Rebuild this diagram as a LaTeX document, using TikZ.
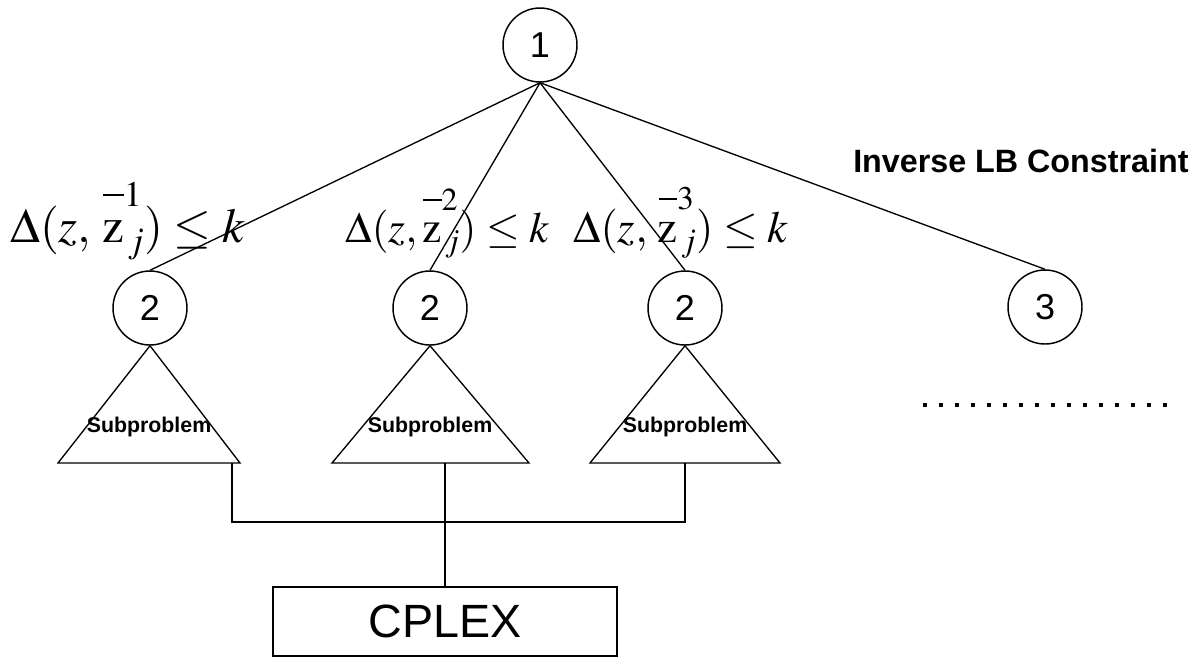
\documentclass[tikz,border=0pt]{standalone}
\usepackage{mathptmx}
\usepackage[no-math]{fontspec}
\setmainfont{Liberation Serif}
\newfontfamily\arial{Liberation Sans}
\newcommand{\zb}[1]{\mathrm{z}\llap{\rule[0.95em]{0.42em}{0.04em}}\rlap{\raisebox{0.72em}{$\scriptstyle #1$}}\raisebox{-0.22em}{$\scriptstyle\,j$}}
\tikzset{
  tnode/.style={circle,draw,line width=1.1pt,minimum size=55.5pt,inner sep=0pt,font=\arial\fontsize{27}{30}\selectfont},
  subp/.style={anchor=base,inner sep=0pt,font=\arial\bfseries\fontsize{16}{18}\selectfont},
  cons/.style={anchor=base west,inner sep=0pt},
  edge/.style={line width=1.0pt},
  dotrow/.style={line width=3pt,dash pattern=on 3pt off 9pt}
}
\begin{document}
\begin{tikzpicture}[x=0.75pt,y=-0.75pt]
\useasboundingbox (0,0) rectangle (1199,658);
% tree nodes
\node[tnode] (n1) at (540,45) {1};
\node[tnode] (n2a) at (150,308) {2};
\node[tnode] (n2b) at (430,308) {2};
\node[tnode] (n2c) at (685,308) {2};
\node[tnode] (n3) at (1045,307) {3};
% edges
\draw[edge] (n1.south) -- (n2a.north);
\draw[edge] (n1.south) -- (n2b.north);
\draw[edge] (n1.south) -- (n2c.north);
\draw[edge] (n1.south) -- (n3.north);
% labels
\node[cons,font=\fontsize{36.5}{40}\selectfont] (la) at (10,242) {$\Delta(z,\,\zb{1})\le k$};
\node[cons,font=\fontsize{32.5}{36}\selectfont] (lb) at (345,242) {$\Delta(z,\zb{2})\le k$};
\node[cons,font=\fontsize{33.5}{37}\selectfont] (lc) at (573,242) {$\Delta(z,\,\zb{3})\le k$};
\node[anchor=base west,inner sep=0pt,font=\arial\bfseries\fontsize{24.2}{27}\selectfont] (inv) at (853,172) {Inverse LB Constraint};
% triangles
\coordinate (t1l) at (58,463); \coordinate (t1r) at (240,463);
\coordinate (t2l) at (332,463); \coordinate (t2r) at (529,463);
\coordinate (t3l) at (590,463); \coordinate (t3r) at (780,463);
\draw[edge,line join=miter] (n2a.south) -- (t1l) -- (t1r) -- cycle;
\draw[edge,line join=miter] (n2b.south) -- (t2l) -- (t2r) -- cycle;
\draw[edge,line join=miter] (n2c.south) -- (t3l) -- (t3r) -- cycle;
\node[subp] (s1) at (149,432) {Subproblem};
\node[subp] (s2) at (430,432) {Subproblem};
\node[subp] (s3) at (685,432) {Subproblem};
% dots
\coordinate (d1) at (923,405); \coordinate (d2) at (1167,405);
\draw[dotrow] (d1) -- (d2);
% CPLEX
\node[draw,line width=1.3pt,minimum width=258pt,minimum height=51.75pt,inner sep=0pt,font=\arial\fontsize{35}{40}\selectfont] (cplex) at (445,621.5) {CPLEX};
\coordinate (b1) at (232,463);
\coordinate (b2) at (445,463);
\coordinate (b3) at (685,463);
\draw[edge] (b1) -- (232,522) -| (b3);
\draw[edge] (b2) -- (cplex.north);
\end{tikzpicture}
\end{document}
